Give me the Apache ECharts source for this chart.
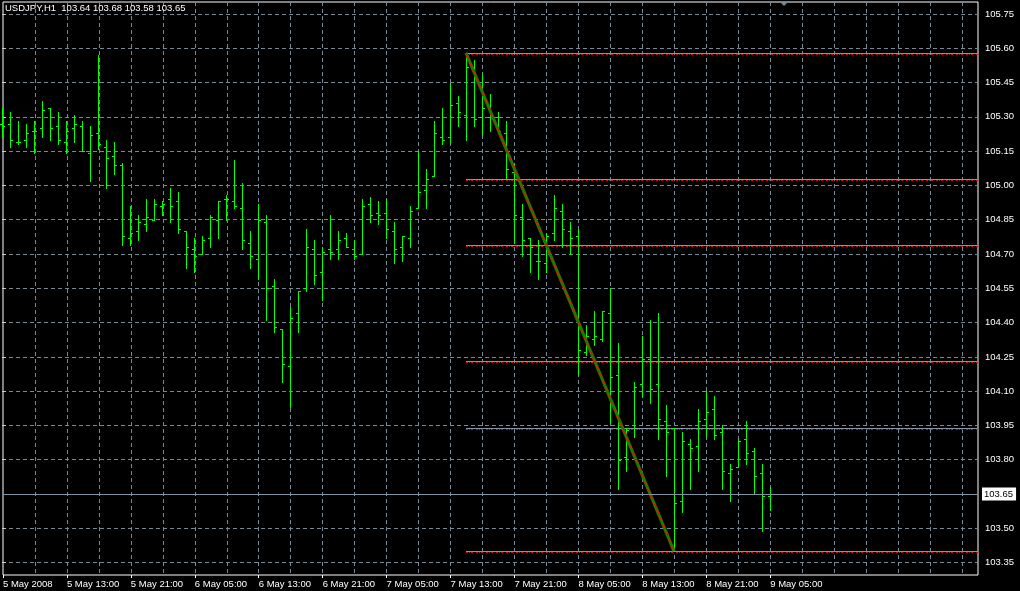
<!DOCTYPE html>
<html><head><meta charset="utf-8">
<script src="https://cdn.jsdelivr.net/npm/echarts@6/dist/echarts.min.js"></script>
<style>html,body{margin:0;padding:0;background:#000}#c{width:1020px;height:591px}</style>
</head><body><div id="c"></div><script>
const symbol = 'USDJPY,H1';
const opens  = [105.27,105.27,105.19,105.20,105.24,105.25,105.34,105.26,105.19,105.25,105.26,105.14,105.23,105.17,105.13,105.09,104.77,104.80,104.83,104.85,104.91,104.94,104.93,104.80,104.72,104.70,104.77,104.85,104.94,104.93,104.90,104.75,104.68,104.84,104.56,104.37,104.21,104.44,104.55,104.72,104.62,104.72,104.72,104.77,104.72,104.70,104.92,104.88,104.88,104.80,104.73,104.77,104.90,104.98,105.04,105.21,105.21,105.36,105.31,105.52,105.30,105.30,105.30,105.23,105.06,104.86,104.77,104.67,104.66,104.79,104.89,104.80,104.78,104.27,104.33,104.33,104.44,104.17,103.81,103.95,104.13,104.24,104.13,103.97,103.94,103.62,103.87,103.86,103.98,104.02,103.92,103.74,103.77,103.89,103.84,103.74,103.64];
const highs  = [105.34,105.32,105.28,105.27,105.28,105.37,105.34,105.32,105.28,105.31,105.28,105.26,105.57,105.20,105.19,105.10,104.91,104.87,104.94,104.94,104.93,104.99,104.97,104.80,104.77,104.78,104.87,104.93,104.96,105.11,105.01,104.80,104.92,104.87,104.59,104.37,104.47,104.54,104.81,104.76,104.73,104.87,104.80,104.79,104.76,104.94,104.95,104.93,104.94,104.84,104.78,104.91,105.15,105.07,105.28,105.34,105.45,105.39,105.58,105.55,105.49,105.40,105.32,105.28,105.10,104.92,104.77,104.76,104.79,104.96,104.92,104.84,104.81,104.39,104.45,104.45,104.55,104.31,103.94,104.14,104.34,104.41,104.44,104.04,103.94,103.92,103.89,104.02,104.10,104.08,103.95,103.78,103.89,103.97,103.85,103.78,103.68];
const lows   = [105.21,105.17,105.18,105.17,105.14,105.21,105.20,105.18,105.14,105.19,105.15,105.02,105.16,104.99,105.05,104.74,104.74,104.76,104.80,104.85,104.87,104.84,104.79,104.64,104.62,104.70,104.73,104.77,104.85,104.90,104.72,104.64,104.59,104.41,104.36,104.14,104.03,104.36,104.54,104.57,104.50,104.68,104.68,104.73,104.68,104.70,104.84,104.83,104.77,104.66,104.67,104.73,104.90,104.90,105.04,105.18,105.19,105.26,105.20,105.26,105.22,105.24,105.23,105.03,104.75,104.69,104.62,104.59,104.62,104.76,104.73,104.70,104.17,104.26,104.30,104.32,103.96,103.67,103.75,103.90,104.08,104.05,103.89,103.73,103.40,103.57,103.67,103.75,103.90,103.89,103.67,103.62,103.77,103.78,103.65,103.49,103.58];
const closes = [105.26,105.20,105.19,105.23,105.24,105.33,105.25,105.20,105.24,105.27,105.15,105.22,105.18,105.12,105.09,104.78,104.79,104.84,104.86,104.92,104.92,104.91,104.81,104.73,104.69,104.76,104.86,104.93,104.94,104.91,104.76,104.69,104.85,104.55,104.38,104.22,104.42,104.54,104.73,104.61,104.71,104.71,104.76,104.73,104.69,104.91,104.87,104.87,104.81,104.72,104.78,104.89,104.97,105.03,105.23,105.20,105.35,105.32,105.52,105.29,105.34,105.31,105.24,105.07,104.87,104.76,104.73,104.67,104.78,104.90,104.81,104.77,104.28,104.34,104.34,104.45,104.16,103.80,103.93,104.12,104.24,104.11,103.98,103.92,103.61,103.88,103.85,103.97,104.01,103.91,103.75,103.76,103.88,103.83,103.73,103.64,103.65];
const timeLabels = ['5 May 2008','5 May 13:00','5 May 21:00','6 May 05:00','6 May 13:00','6 May 21:00','7 May 05:00','7 May 13:00','7 May 21:00','8 May 05:00','8 May 13:00','8 May 21:00','9 May 05:00'];
const fibLevels = [105.58,105.03,104.74,104.23,103.94,103.40];
const fibStartBar = 58;
const trendPoints = [[58,105.58],[84,103.40]];
const currentPrice = 103.65;
const totalSlots = 122;
const barsPerLabel = 8;
const barsPerGrid = 4;

const FONT = 'Liberation Sans';
const ohlc = opens.map((o, i) => [i, o, highs[i], lows[i], closes[i]]);
const cats = [];
for (let i = 0; i <= totalSlots; i++) {
  const k = i / barsPerLabel;
  cats.push(i % barsPerLabel === 0 && k < timeLabels.length ? timeLabels[k] : '');
}
const last = ohlc.length - 1;
const header = symbol + '  ' + [opens[last], highs[last], lows[last], closes[last]].map(v => v.toFixed(2)).join(' ');
const gridColor = '#778899';

const chart = echarts.init(document.getElementById('c'), null, {renderer: 'canvas'});
chart.setOption({
  backgroundColor: '#000',
  animation: false,
  title: {text: header, left: 5, top: 3, padding: 0,
    textStyle: {color: '#fff', fontSize: 9.5, fontWeight: 'normal', fontFamily: FONT}},
  grid: [
    {left: 2, right: 42, top: 14, height: 548.6},
    {left: 2, right: 42, top: 2, height: 573, show: true, borderColor: '#fff', borderWidth: 1, backgroundColor: '#000'}
  ],
  xAxis: [
    {type: 'value', gridIndex: 0, min: 0, max: totalSlots, show: false},
    {type: 'category', gridIndex: 1, data: cats, boundaryGap: false,
      axisLine: {show: false},
      axisTick: {show: true, length: 3, interval: (i, v) => v !== '', lineStyle: {color: '#fff'}},
      axisLabel: {interval: (i, v) => v !== '', color: '#fff', fontSize: 9.5, fontFamily: FONT, align: 'left', margin: 4, hideOverlap: false},
      splitLine: {show: true, interval: (i) => i > 0 && i % barsPerGrid === 0, lineStyle: {color: gridColor, type: [4, 3], width: 1}}}
  ],
  yAxis: [
    {type: 'value', gridIndex: 0, position: 'right', min: 103.35, max: 105.75, interval: 0.15,
      axisLine: {show: false},
      axisTick: {show: true, length: 4, lineStyle: {color: '#ccc'}},
      axisLabel: {color: '#fff', fontSize: 9.5, fontFamily: FONT, margin: 7, formatter: v => v.toFixed(2)},
      splitLine: {show: true, lineStyle: {color: gridColor, type: [4, 3], width: 1}}},
    {type: 'value', gridIndex: 1, min: 0, max: 1, show: false}
  ],
  graphic: [
    {type: 'polygon', shape: {points: [[780, 2], [788, 2], [784, 6]]}, style: {fill: gridColor}, z: 100}
  ],
  series: [
    {
      type: 'custom', xAxisIndex: 0, yAxisIndex: 0, data: ohlc, z: 3,
      encode: {x: 0, y: [1, 2, 3, 4]},
      renderItem: function (params, api) {
        const i = api.value(0);
        const o = api.coord([i, api.value(1)]);
        const h = api.coord([i, api.value(2)]);
        const l = api.coord([i, api.value(3)]);
        const c = api.coord([i, api.value(4)]);
        const x = Math.round(o[0]) + 0.5;
        const ry = v => Math.round(v) + 0.5;
        const style = {stroke: '#00ff00', lineWidth: 1};
        return {type: 'group', children: [
          {type: 'line', shape: {x1: x, y1: Math.round(h[1]), x2: x, y2: Math.round(l[1]) + 1}, style: style},
          {type: 'line', shape: {x1: x - 2.5, y1: ry(o[1]), x2: x - 0.5, y2: ry(o[1])}, style: style},
          {type: 'line', shape: {x1: x + 0.5, y1: ry(c[1]), x2: x + 2.5, y2: ry(c[1])}, style: style}
        ]};
      },
      markLine: {
        symbol: 'none', silent: true, animation: false,
        data: [{yAxis: currentPrice}],
        lineStyle: {color: '#7f92a6', type: 'solid', width: 1},
        label: {position: 'end', formatter: currentPrice.toFixed(2), color: '#000', backgroundColor: '#fff',
          padding: [2, 3, 1, 2], fontSize: 9.5, fontFamily: FONT, distance: 4}
      }
    },
    {
      type: 'custom', xAxisIndex: 0, yAxisIndex: 0, z: 2,
      data: fibLevels.map(v => [fibStartBar, v]),
      encode: {x: 0, y: 1},
      renderItem: function (params, api) {
        const p = api.coord([api.value(0), api.value(1)]);
        const xEnd = params.coordSys.x + params.coordSys.width;
        const y = Math.round(p[1]) + 0.5;
        return {type: 'group', children: [
          {type: 'line', shape: {x1: p[0], y1: y, x2: xEnd, y2: y}, style: {stroke: '#8496a8', lineWidth: 1}},
          {type: 'line', shape: {x1: p[0], y1: y + 1, x2: xEnd, y2: y + 1}, style: {stroke: '#e00000', lineWidth: 1, lineDash: [2, 3]}},
          {type: 'line', shape: {x1: p[0] + 3, y1: y + 1, x2: xEnd, y2: y + 1}, style: {stroke: '#008000', lineWidth: 1, lineDash: [1, 9]}}
        ]};
      }
    },
    {
      type: 'line', xAxisIndex: 0, yAxisIndex: 0, data: trendPoints, symbol: 'none', z: 4, silent: true,
      lineStyle: {color: '#008c00', width: 3}
    },
    {
      type: 'line', xAxisIndex: 0, yAxisIndex: 0, data: trendPoints, symbol: 'none', z: 5, silent: true,
      lineStyle: {color: '#ff0000', width: 3, type: [1, 2]}
    }
  ]
});
</script></body></html>
